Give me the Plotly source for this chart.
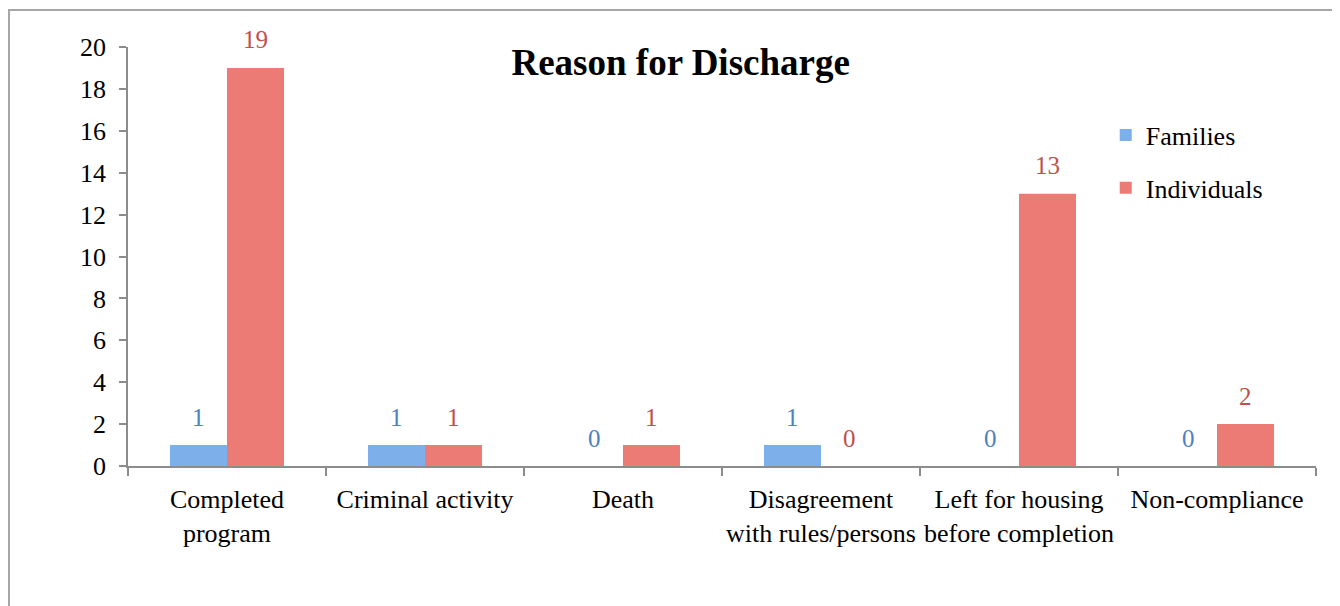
import plotly.graph_objects as go

categories = ["Completed<br>program", "Criminal activity", "Death",
              "Disagreement<br>with rules/persons", "Left for housing<br>before completion",
              "Non-compliance"]
families = [1, 1, 0, 1, 0, 0]
individuals = [19, 1, 1, 0, 13, 2]
y_ticks = [0, 2, 4, 6, 8, 10, 12, 14, 16, 18, 20]

FONT = "'Liberation Serif', 'Times New Roman', 'DejaVu Serif', serif"
BLUE = "#7DAFEA"
RED = "#EC7B75"
BLUE_TXT = "#4F81BD"
RED_TXT = "#C0504D"

fig = go.Figure()
fig.add_trace(go.Bar(name="Families", x=categories, y=families, marker_color=BLUE,
                     marker_line_width=0, legendgroup="f"))
fig.add_trace(go.Bar(name="Individuals", x=categories, y=individuals, marker_color=RED,
                     marker_line_width=0, legendgroup="i"))

annotations = []
for i, c in enumerate(categories):
    annotations.append(dict(x=c, y=families[i], text=str(families[i]), showarrow=False,
                            xshift=-28.5, yshift=28, font=dict(family=FONT, size=25, color=BLUE_TXT)))
    annotations.append(dict(x=c, y=individuals[i], text=str(individuals[i]), showarrow=False,
                            xshift=28.5, yshift=28, font=dict(family=FONT, size=25, color=RED_TXT)))

fig.update_layout(
    width=1340, height=606,
    margin=dict(l=120, r=32, t=39, b=148, autoexpand=False),
    paper_bgcolor="white", plot_bgcolor="white",
    barmode="group", bargap=0.424, bargroupgap=0,
    font=dict(family=FONT, size=26, color="black"),
    title=dict(text="<b>Reason for Discharge</b>", x=0.502, xanchor="center",
               y=0.911, yanchor="middle", font=dict(family=FONT, size=37, color="black")),
    legend=dict(x=0.823, y=0.846, xanchor="left", yanchor="top", font=dict(family=FONT, size=26),
                tracegroupgap=16, itemwidth=30, bgcolor="rgba(0,0,0,0)"),
    annotations=annotations,
    shapes=[dict(type="rect", xref="paper", yref="paper", x0=-0.1002, x1=1.03, y0=-0.36, y1=1.0883,
                 line=dict(color="#A6A6A6", width=2), layer="below")],
)
fig.update_yaxes(range=[0, 20], tickvals=y_ticks, showgrid=False, zeroline=False,
                 showline=True, linecolor="#8C8C8C", linewidth=1.5, automargin=False,
                 ticks="outside", ticklen=7, tickcolor="#8C8C8C", tickwidth=1.5,
                 ticklabelstandoff=8, tickfont=dict(family=FONT, size=26, color="black"))
fig.update_xaxes(showgrid=False, showline=True, linecolor="#8C8C8C", linewidth=1.5,
                 automargin=False, tickangle=0,
                 ticks="outside", ticklen=8, tickcolor="#8C8C8C", tickwidth=1.5,
                 tickson="boundaries", ticklabelstandoff=9,
                 tickfont=dict(family=FONT, size=26, color="black"))

fig.write_html("out.html")
